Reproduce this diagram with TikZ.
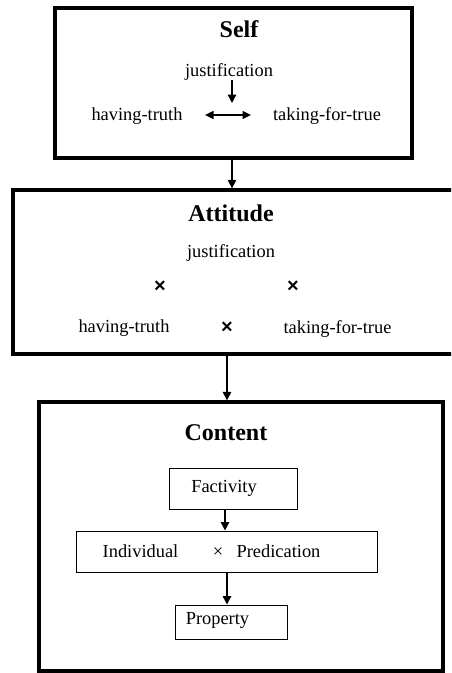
\documentclass[tikz,border=0pt]{standalone}
\usepackage{fontspec}
\setmainfont{Liberation Serif}
\setsansfont{Liberation Sans}
\usetikzlibrary{arrows.meta}
\begin{document}
\begin{tikzpicture}[x=1pt,y=-1pt,
  txt/.style={inner sep=0pt,anchor=base,font=\fontsize{18.4}{22}\selectfont},
  ttl/.style={inner sep=0pt,anchor=base,font=\fontsize{24}{28}\selectfont\bfseries},
  cross/.style={inner sep=0pt,anchor=center,font=\fontsize{20}{22}\selectfont\sffamily\bfseries},
  bigbox/.style={draw,line width=3.3pt,inner sep=0pt,rectangle},
  smallbox/.style={draw,line width=1pt,inner sep=0pt,rectangle},
  arr/.style={line width=1.3pt,-{Triangle[length=8.5pt,width=8.5pt]}},
  darr/.style={line width=1.3pt,{Triangle[length=8.5pt,width=8pt]}-{Triangle[length=8.5pt,width=8pt]}}]
\useasboundingbox (0,0) rectangle (451,673);
\clip (0,0) rectangle (451,673);
\fill[white] (0,0) rectangle (451,673);
% Self
\node[bigbox,minimum width=357pt,minimum height=150pt] (self) at (233.5,83) {};
\node[ttl] (selft) at (239,37) {Self};
\node[txt] (sjust) at (229,76) {justification};
\node[txt] (shave) at (137,120) {having-truth};
\node[txt] (stake) at (327,120) {taking-for-true};
\coordinate (sja) at (232,80);
\coordinate (sjb) at (232,103);
\coordinate (sda) at (205,115);
\coordinate (sdb) at (251,115);
\draw[arr] (sja) -- (sjb);
\draw[darr] (sda) -- (sdb);
% Attitude
\node[bigbox,minimum width=447pt,minimum height=164pt] (att) at (236.5,272) {};
\node[ttl] (attt) at (231,221) {Attitude};
\node[txt] (ajust) at (231,257) {justification};
\node[cross] (ax1) at (160,287) {×};
\node[cross] (ax2) at (293,287) {×};
\node[txt] (ahave) at (124,332) {having-truth};
\node[cross] (ax3) at (227,328) {×};
\node[txt] (atake) at (337.5,333) {taking-for-true};
% Content
\node[bigbox,minimum width=404pt,minimum height=269pt] (cont) at (241,536.5) {};
\node[ttl] (contt) at (226,440) {Content};
\node[smallbox,minimum width=128pt,minimum height=41pt] (fact) at (233,488.5) {};
\node[txt] (factt) at (224,492) {Factivity};
\node[smallbox,minimum width=301pt,minimum height=41pt] (ind) at (226.5,551.5) {};
\node[txt] (indt) at (140.5,557) {Individual};
\node[txt] (indx) at (218,557) {×};
\node[txt] (predt) at (278.5,557) {Predication};
\node[smallbox,minimum width=112pt,minimum height=34pt] (prop) at (231,622) {};
\node[txt] (propt) at (217.5,624) {Property};
% connectors
\draw[arr] (self.south -| sja) -- (att.north -| sja);
\draw[arr] (att.south -| ax3) -- (cont.north -| ax3);
\draw[arr] ([xshift=-8pt]fact.south) -- ([xshift=-8pt]fact.south |- ind.north);
\draw[arr] ([xshift=-4pt]prop.north |- ind.south) -- ([xshift=-4pt]prop.north);
\end{tikzpicture}
\end{document}
